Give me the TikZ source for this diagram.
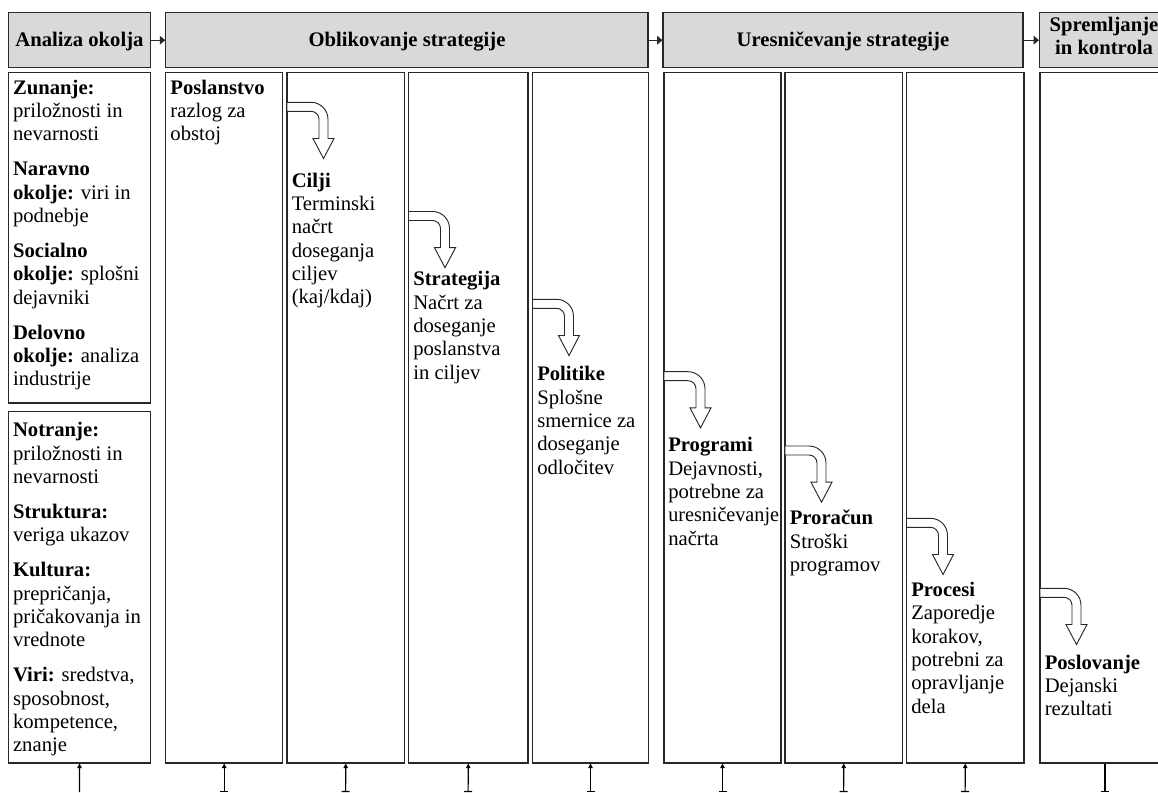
\documentclass[tikz,border=0pt]{standalone}
\usepackage{fontspec}
\setmainfont{Liberation Serif}
\usepackage{graphicx}
\usetikzlibrary{arrows.meta,fit,calc}
\definecolor{hdrgray}{RGB}{217,217,217}
\definecolor{edge}{RGB}{40,40,40}
\newcommand\pgap{\\[8.75pt]}
\newcommand\fl{\rule{0pt}{12pt}}
\newcommand\bentarrow[3]{%
  \draw[bent, shift={(#2,#3)}] (0,0) -- (24,0)
    arc[start angle=-90,end angle=0,radius=17] -- (41,36.2) -- (47,36.2)
    -- (36.5,56.2) -- (26,36.2) -- (32,36.2) -- (32,17)
    arc[start angle=0,end angle=-90,radius=8] -- (0,9) -- cycle;
  \coordinate (#1) at ($(#2,#3)+(36.5,56.2)$);}
\tikzset{
  hdr/.style={draw=edge, line width=0.8pt, fill=hdrgray, inner sep=0pt},
  hdrtxt/.style={anchor=base, inner sep=0pt, align=center,
    font=\bfseries\fontsize{15.5pt}{16.7pt}\selectfont},
  colbox/.style={draw=edge, line width=0.8pt, fill=white, inner sep=0pt},
  txt/.style={anchor=north west, inner sep=0pt, align=left,
    font=\fontsize{15.5pt}{17.5pt}\selectfont},
  bent/.style={draw=edge, line width=0.7pt, fill=white},
  link/.style={draw=edge, line width=0.8pt, -{Triangle[length=4pt,width=6.5pt]}},
  feed/.style={draw=black, line width=0.8pt, {Bar[width=6pt]}-{Triangle[length=3.5pt,width=3.5pt]}},
  feedA/.style={draw=black, line width=0.8pt, -{Triangle[length=3.5pt,width=3.5pt]}},
  feedB/.style={draw=black, line width=0.8pt, {Bar[width=6pt]}-},
}
\begin{document}
\begin{tikzpicture}[x=0.75pt,y=-0.75pt]
\clip (0,0) rectangle (1158,793);
\fill[white] (0,0) rectangle (1158,793);

% header boxes
\node[hdr, fit={(8.3,12.7) (150.7,67.7)}] (h1) {};
\node[hdr, fit={(165.7,12.7) (648,67.7)}] (h2) {};
\node[hdr, fit={(663,12.7) (1023,67.7)}] (h3) {};
\node[hdr, fit={(1039.5,12.7) (1170,67.7)}] (h4) {};
\node[hdrtxt] (h1t) at (79.5,46.5) {Analiza okolja};
\node[hdrtxt] (h2t) at (407,46.5) {Oblikovanje strategije};
\node[hdrtxt] (h3t) at (843,46.5) {Uresničevanje strategije};
\node[hdrtxt] (h4t) at (1104,54) {Spremljanje\\in kontrola};
\draw[link] (h1) -- (h2);
\draw[link] (h2) -- (h3);
\draw[link] (h3) -- (h4);

% column boxes
\node[colbox, fit={(8.3,72.7) (150.7,403)}] (ext) {};
\node[colbox, fit={(8.3,411.7) (150.7,763)}] (int) {};
\node[colbox, fit={(165.7,72.7) (282.7,763)}] (c1) {};
\node[colbox, fit={(287,72.7) (404.5,763)}] (c2) {};
\node[colbox, fit={(408.5,72.7) (528,763)}] (c3) {};
\node[colbox, fit={(532.5,72.7) (648.5,763)}] (c4) {};
\node[colbox, fit={(664,72.7) (781,763)}] (c5) {};
\node[colbox, fit={(785,72.7) (902.5,763)}] (c6) {};
\node[colbox, fit={(906.5,72.7) (1024,763)}] (c7) {};
\node[colbox, fit={(1040,72.7) (1170,763)}] (c8) {};

% left column texts (y = first baseline - 16)
\node[txt] (extt) at (12.8,77.8) {\fl\textbf{Zunanje:}\\priložnosti in\\nevarnosti\pgap
  \textbf{Naravno}\\\textbf{okolje:} viri in\\podnebje\pgap
  \textbf{Socialno}\\\textbf{okolje:} splošni\\dejavniki\pgap
  \textbf{Delovno}\\\textbf{okolje:} analiza\\industrije};
\node[txt] (intt) at (12.8,420.5) {\fl\textbf{Notranje:}\\priložnosti in\\nevarnosti\pgap
  \textbf{Struktura:}\\veriga ukazov\pgap
  \textbf{Kultura:}\\prepričanja,\\pričakovanja in\\vrednote\pgap
  \textbf{Viri:} sredstva,\\sposobnost,\\kompetence,\\znanje};

% column texts
\node[txt] (t1) at (170.2,77.8) {\fl\textbf{Poslanstvo}\\razlog za\\obstoj};
\node[txt] (t2) at (291.5,171) {\fl\textbf{Cilji}\\Terminski\\načrt\\doseganja\\ciljev\\(kaj/kdaj)};
\node[txt] (t3) at (413,269.5) {\fl\textbf{Strategija}\\Načrt za\\doseganje\\poslanstva\\in ciljev};
\node[txt] (t4) at (537,364.7) {\fl\textbf{Politike}\\Splošne\\smernice za\\doseganje\\odločitev};
\node[txt] (t5) at (668,435.5) {\fl\textbf{Programi}\\Dejavnosti,\\potrebne za\\\scalebox{0.975}[1]{uresničevanje}\\načrta};
\node[txt] (t6) at (789.5,508.5) {\fl\textbf{Proračun}\\Stroški\\programov};
\node[txt] (t7) at (911,580.2) {\fl\textbf{Procesi}\\Zaporedje\\korakov,\\potrebni za\\opravljanje\\dela};
\node[txt] (t8) at (1044.5,652.8) {\fl\textbf{Poslovanje}\\Dejanski\\rezultati};

% bent arrows
\bentarrow{a1}{287}{102.3}
\bentarrow{a2}{408.5}{211.5}
\bentarrow{a3}{532.5}{299.3}
\bentarrow{a4}{664}{371.7}
\bentarrow{a5}{785}{446}
\bentarrow{a6}{906.5}{518.3}
\bentarrow{a7}{1040}{588.3}

% bottom arrows
\coordinate (b0) at (79.5,792);
\coordinate (b1) at (224.2,792);
\coordinate (b2) at (345.7,792);
\coordinate (b3) at (468.2,792);
\coordinate (b4) at (590.5,792);
\coordinate (b5) at (722.5,792);
\coordinate (b6) at (843.7,792);
\coordinate (b7) at (965.2,792);
\coordinate (b8) at (1105,792);
\draw[feedA] (b0) -- (int.south);
\draw[feed] (b1) -- (c1.south);
\draw[feed] (b2) -- (c2.south);
\draw[feed] (b3) -- (c3.south);
\draw[feed] (b4) -- (c4.south);
\draw[feed] (b5) -- (c5.south);
\draw[feed] (b6) -- (c6.south);
\draw[feed] (b7) -- (c7.south);
\draw[feedB] (b8) -- (c8.south);
\end{tikzpicture}
\end{document}
